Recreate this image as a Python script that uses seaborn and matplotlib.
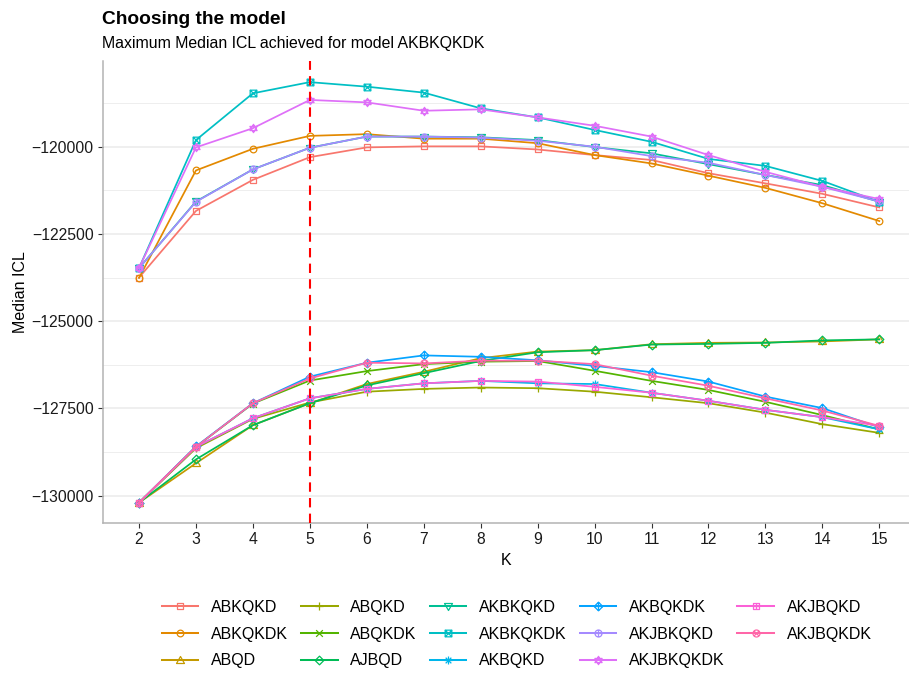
import numpy as np
import pandas as pd
import matplotlib
matplotlib.use("Agg")
import matplotlib.pyplot as plt
from matplotlib.path import Path
from matplotlib.markers import MarkerStyle
from matplotlib.lines import Line2D
import seaborn as sns

# ---------------- data ----------------
K = [2, 3, 4, 5, 6, 7, 8, 9, 10, 11, 12, 13, 14, 15]
models = ["ABKQKD", "ABKQKDK", "ABQD", "ABQKD", "ABQKDK", "AJBQD", "AKBKQKD",
          "AKBKQKDK", "AKBQKD", "AKBQKDK", "AKJBKQKD", "AKJBKQKDK", "AKJBQKD", "AKJBQKDK"]

ABKQKD = [-123750, -121840, -120950, -120300, -120020, -119990, -119990, -120080, -120240, -120380, -120760, -121050, -121350, -121740]
ABKQKDK = [-123760, -120680, -120060, -119690, -119640, -119770, -119770, -119900, -120240, -120480, -120830, -121180, -121620, -122130]
ABQD = [-130200, -129070, -127980, -127350, -126800, -126450, -126060, -125870, -125830, -125660, -125620, -125610, -125580, -125520]
ABQKD = [-130200, -128640, -127800, -127330, -127020, -126940, -126900, -126920, -127020, -127180, -127350, -127620, -127950, -128200]
ABQKDK = [-130200, -128600, -127360, -126700, -126430, -126230, -126160, -126140, -126420, -126710, -126970, -127310, -127690, -128100]
AJBQD = [-130200, -128960, -127980, -127350, -126840, -126490, -126140, -125890, -125830, -125670, -125650, -125620, -125550, -125520]
AKBKQKD = [-123480, -121570, -120650, -120030, -119710, -119710, -119730, -119810, -120010, -120190, -120500, -120810, -121100, -121580]
AKBKQKDK = [-123480, -119810, -118470, -118150, -118280, -118450, -118900, -119160, -119520, -119860, -120350, -120550, -120980, -121580]
AKBQKD = [-130200, -128600, -127780, -127210, -126940, -126780, -126710, -126780, -126800, -127050, -127280, -127540, -127750, -128100]
AKBQKDK = [-130200, -128590, -127350, -126590, -126190, -125980, -126020, -126120, -126280, -126460, -126730, -127160, -127490, -128040]
AKJBKQKD = [-123480, -121580, -120650, -120030, -119710, -119710, -119740, -119830, -120000, -120270, -120460, -120810, -121150, -121570]
AKJBKQKDK = [-123480, -120020, -119470, -118660, -118730, -118970, -118930, -119160, -119400, -119710, -120240, -120720, -121150, -121500]
AKJBQKD = [-130200, -128600, -127780, -127210, -126940, -126780, -126710, -126730, -126880, -127050, -127280, -127540, -127750, -128000]
AKJBQKDK = [-130200, -128600, -127350, -126640, -126190, -126210, -126130, -126130, -126230, -126560, -126850, -127210, -127560, -128000]

series = [ABKQKD, ABKQKDK, ABQD, ABQKD, ABQKDK, AJBQD, AKBKQKD,
          AKBKQKDK, AKBQKD, AKBQKDK, AKJBKQKD, AKJBKQKDK, AKJBQKD, AKJBQKDK]

best_K = 5
yticks = [-130000, -127500, -125000, -122500, -120000]
title = "Choosing the model"
subtitle = "Maximum Median ICL achieved for model AKBKQKDK"

colors = ["#F8766D", "#E38900", "#C49A00", "#99A800", "#53B400", "#00BC56", "#00C094",
          "#00BFC4", "#00B6EB", "#06A4FF", "#A58AFF", "#DF70F8", "#FB61D7", "#FF66A8"]

# ---------------- marker shapes (ggplot shapes 0..13) ----------------
M, L, C = Path.MOVETO, Path.LINETO, Path.CLOSEPOLY

def poly(pts):
    v = list(pts) + [pts[0]]
    c = [M] + [L] * (len(pts) - 1) + [C]
    return Path(v, c)

def segs(pairs):
    v, c = [], []
    for a, b in pairs:
        v += [a, b]
        c += [M, L]
    return Path(v, c)

square = poly([(-1, -1), (1, -1), (1, 1), (-1, 1)])
circle = Path.unit_circle()
s3 = np.sqrt(3) / 2
tri_up = poly([(0, 1), (-s3 * 1.15, -0.75), (s3 * 1.15, -0.75)])
tri_dn = poly([(0, -1), (-s3 * 1.15, 0.75), (s3 * 1.15, 0.75)])
plus = segs([((-1, 0), (1, 0)), ((0, -1), (0, 1))])
cross = segs([((-1, -1), (1, 1)), ((-1, 1), (1, -1))])
cross_c = segs([((-0.707, -0.707), (0.707, 0.707)), ((-0.707, 0.707), (0.707, -0.707))])
diamond = poly([(0, 1), (1, 0), (0, -1), (-1, 0)])
star_a = poly([(0, 1), (-s3, -0.5), (s3, -0.5)])
star_b = poly([(0, -1), (-s3, 0.5), (s3, 0.5)])
c8 = 0.707
asterisk = segs([((-1, 0), (1, 0)), ((0, -1), (0, 1)),
                 ((-c8, -c8), (c8, c8)), ((-c8, c8), (c8, -c8))])
cp = Path.make_compound_path

shapes = [
    square,                     # 0
    circle,                     # 1
    tri_up,                     # 2
    plus,                       # 3
    cross,                      # 4
    diamond,                    # 5
    tri_dn,                     # 6
    cp(square, cross),          # 7
    asterisk,                   # 8
    cp(diamond, plus),          # 9
    cp(circle, plus),           # 10
    cp(star_a, star_b),         # 11
    cp(square, plus),           # 12
    cp(circle, cross_c),        # 13
]
scale = [1.0, 1.0, 1.2, 1.25, 1.0, 1.3, 1.2, 1.0, 1.2, 1.3, 1.05, 1.25, 1.0, 1.05]

marker_map = {m: MarkerStyle(s) for m, s in zip(models, shapes)}
palette = dict(zip(models, colors))

df = pd.DataFrame({
    "K": np.tile(K, len(models)),
    "ICL": np.concatenate([np.array(s, dtype=float) for s in series]),
    "model": np.repeat(models, len(K)),
})

# ---------------- figure ----------------
W, H = 909, 675
LW = 1.25
MS = 4.8
fig = plt.figure(figsize=(W / 100, H / 100), dpi=100)
plt.rcParams["font.family"] = ["Liberation Sans", "DejaVu Sans"]
ax = fig.add_axes([102.7 / W, 1 - 523 / H, 1 - 102.7 / W, (523 - 61) / H])

sns.lineplot(data=df, x="K", y="ICL", hue="model", style="model",
             hue_order=models, style_order=models, palette=palette,
             markers=marker_map, dashes=False, errorbar=None, legend=False,
             linewidth=LW, markersize=MS, ax=ax, sort=True)

for line, sc in zip(ax.lines, scale):
    c = line.get_color()
    line.set_markerfacecolor("none")
    line.set_markeredgecolor(c)
    line.set_markeredgewidth(0.9)
    line.set_markersize(MS * sc)

ax.axvline(best_K, color="red", linestyle=(0, (4.5, 3.0)), linewidth=1.5, zorder=5)

# axes styling
ax.set_xticks(K)
ax.set_xticklabels([str(k) for k in K])
ax.set_yticks(yticks)
ax.set_yticklabels([f"{v:d}".replace("-", "\u2212") for v in yticks])
ax.set_yticks([v + 1250 for v in yticks[:-1]] + [yticks[-1] + 1250], minor=True)

x_px_per_unit = (879.3 - 139.0) / 13
ax.set_xlim(2 - (139.0 - 102.7) / x_px_per_unit, 2 + (W - 139.0) / x_px_per_unit)
ypp = 87.25 / 2500
ax.set_ylim(-120000 - (523 - 146.7) / ypp, -120000 + (146.7 - 61) / ypp)

ax.set_facecolor("white")
ax.grid(False)
ax.yaxis.grid(True, which="major", color="#EBEBEB", linewidth=1.1, zorder=0)
ax.yaxis.grid(True, which="minor", color="#EBEBEB", linewidth=0.6, zorder=0)
ax.set_axisbelow(True)
for s in ["top", "right"]:
    ax.spines[s].set_visible(False)
for s in ["left", "bottom"]:
    ax.spines[s].set_color("#B3B3B3")
    ax.spines[s].set_linewidth(1.1)
ax.tick_params(axis="both", which="major", length=3.5, width=0.8, color="#333333",
               labelsize=11.3, labelcolor="#1A1A1A", pad=3)
ax.tick_params(axis="y", which="minor", length=0)

ax.set_xlabel("K", fontsize=11.5, color="black", labelpad=4)
ax.set_ylabel("Median ICL", fontsize=11.5, color="black", labelpad=2.5)

fig.text(102 / W, 1 - 24.5 / H, title, fontsize=13.8, fontweight="bold",
         ha="left", va="baseline")
fig.text(102 / W, 1 - 48 / H, subtitle, fontsize=11.4, ha="left", va="baseline")

handles = [Line2D([], [], color=c, marker=marker_map[m], markerfacecolor="none",
                  markeredgecolor=c, markeredgewidth=0.9, markersize=MS * sc, linewidth=LW + 0.2)
           for m, c, sc in zip(models, colors, scale)]
fig.legend(handles, models, loc="center left", bbox_to_anchor=(161.7 / W, 1 - 634 / H),
           ncol=5, frameon=False, fontsize=11.5, handlelength=2.3, borderpad=0,
           borderaxespad=0, handletextpad=0.78, columnspacing=0.82, labelspacing=0.74)

fig.savefig("out.png", dpi=100)
